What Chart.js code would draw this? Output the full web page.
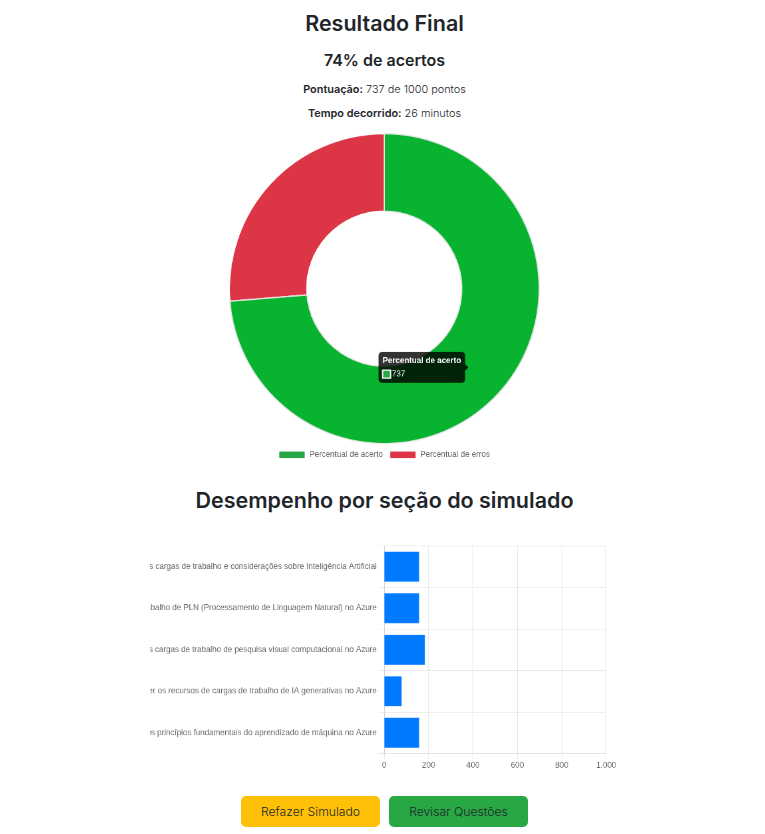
<!DOCTYPE html>
<html lang="pt-BR">
<head>
<meta charset="utf-8">
<title>Resultado Final</title>
<script src="https://cdn.jsdelivr.net/npm/chart.js@4"></script>
<style>
html,body{margin:0;padding:0;background:#fff;overflow:hidden}
body{width:765px;height:834px;position:relative;font-family:Inter,sans-serif;color:#212529}
.t{position:absolute;left:0;width:769px;text-align:center;margin:0;white-space:nowrap}
h2.t{font-size:21.5px;font-weight:600}
.p{font-weight:300}
.box{position:absolute;transform-origin:0 0;transform:scale(.665)}
.btn{position:absolute;top:796px;height:31px;width:139px;border-radius:5px;font-size:12.2px;font-weight:300;line-height:31px;text-align:center;color:#212529}
b{font-weight:600}
</style>
</head>
<body>
<h2 class="t" style="top:10px">Resultado Final</h2>
<div class="t" style="top:50px;font-size:16px;font-weight:600">74% de acertos</div>
<div class="t p" style="top:82px;font-size:10.9px"><b>Pontuação:</b> 737 de 1000 pontos</div>
<div class="t p" style="top:106px;font-size:10.9px"><b>Tempo decorrido:</b> 26 minutos</div>
<div class="box" style="left:227.5px;top:133px;width:470px;height:500px"><canvas id="donut" width="470" height="500"></canvas></div>
<h2 class="t" style="top:487px">Desempenho por seção do simulado</h2>
<div class="box" style="left:150.25px;top:539.4px;width:704px;height:351px"><canvas id="bars" width="704" height="351"></canvas></div>
<div class="btn" style="left:241px;background:#ffc107">Refazer Simulado</div>
<div class="btn" style="left:389px;background:#28a745">Revisar Questões</div>
<script>
const resultLabels = ["Percentual de acerto", "Percentual de erros"];
const resultValues = [737, 263];
const resultColors = ["#28a745", "#dc3545"];
const sectionLabels = [
  "Descrever as cargas de trabalho e considerações sobre Inteligência Artificial",
  "Descrever os recursos das cargas de trabalho de PLN (Processamento de Linguagem Natural) no Azure",
  "Descrever os recursos das cargas de trabalho de pesquisa visual computacional no Azure",
  "Descrever os recursos de cargas de trabalho de IA generativas no Azure",
  "Descrever os princípios fundamentais do aprendizado de máquina no Azure"
];
const sectionValues = [158, 158, 184, 79, 158];
const axisTicks = [0, 200, 400, 600, 800, 1000];

Chart.defaults.animation = false;
Chart.defaults.devicePixelRatio = 1;
Chart.defaults.font.family = "'Liberation Sans', Arial, sans-serif";

const donut = new Chart(document.getElementById("donut"), {
  type: "doughnut",
  data: { labels: resultLabels, datasets: [{ data: resultValues, backgroundColor: resultColors }] },
  options: {
    responsive: false, cutout: "50%",
    plugins: {
      legend: { position: "bottom" },
      tooltip: { callbacks: { title: c => c[0].label, label: c => String(c.raw) } }
    }
  }
});
donut.setActiveElements([{ datasetIndex: 0, index: 0 }]);
donut.tooltip.setActiveElements([{ datasetIndex: 0, index: 0 }], { x: 0, y: 0 });
donut.update();

new Chart(document.getElementById("bars"), {
  type: "bar",
  data: { labels: sectionLabels, datasets: [{ data: sectionValues, backgroundColor: "#007bff" }] },
  options: {
    responsive: false, indexAxis: "y", locale: "pt-BR",
    plugins: { legend: { display: false }, tooltip: { enabled: false } },
    scales: {
      x: { min: 0, max: 1000, border: { display: false }, afterBuildTicks: s => { s.ticks = axisTicks.map(v => ({ value: v })); } },
      y: { ticks: { autoSkip: false } }
    }
  }
});
</script>
</body>
</html>
